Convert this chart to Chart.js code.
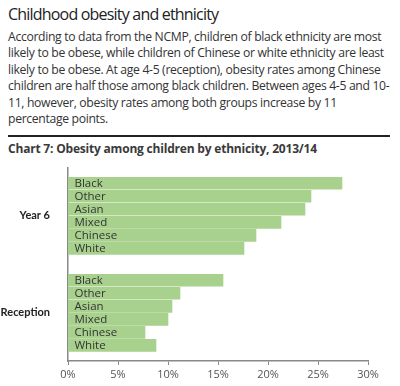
<!DOCTYPE html>
<html>
<head>
<meta charset="utf-8">
<script src="https://cdn.jsdelivr.net/npm/chart.js@4"></script>
<style>
  body { margin: 0; width: 400px; height: 386px; background: #fff; font-family: "Open Sans", sans-serif; color: #222; position: relative; overflow: hidden; }
  h1 { position: absolute; left: 8px; top: 3px; margin: 0; font-size: 16px; font-weight: normal; letter-spacing: -0.8px; }
  p { position: absolute; left: 8px; top: 29px; margin: 0; font-size: 12.2px; line-height: 16.4px; letter-spacing: -0.33px; color: #333; white-space: nowrap; }
  .rule { position: absolute; left: 8px; top: 135px; width: 382px; height: 2px; background: #222; }
  h2 { position: absolute; left: 8px; top: 140px; margin: 0; font-size: 12px; font-weight: bold; color: #3a3a3a; letter-spacing: -0.2px; }
  #wrap { position: absolute; left: 0; top: 151px; width: 400px; height: 235px; }
</style>
</head>
<body>
<h1>Childhood obesity and ethnicity</h1>
<p>According to data from the NCMP, children of black ethnicity are most<br>likely to be obese, while children of Chinese or white ethnicity are least<br>likely to be obese. At age 4-5 (reception), obesity rates among Chinese<br>children are half those among black children. Between ages 4-5 and 10-<br>11, however, obesity rates among both groups increase by 11<br>percentage points.</p>
<div class="rule"></div>
<h2>Chart 7: Obesity among children by ethnicity, 2013/14</h2>
<div id="wrap"><canvas id="chart-obesity"></canvas></div>
<script>
var ethnicities = ["Black", "Other", "Asian", "Mixed", "Chinese", "White"];
var groups = ["Year 6", "Reception"];
var year6Values = [27.4, 24.3, 23.7, 21.3, 18.8, 17.6];
var receptionValues = [15.5, 11.2, 10.4, 10.0, 7.7, 8.8];
var xTicks = [0, 5, 10, 15, 20, 25, 30];

// slot positions on the y scale (Year 6 on top, gap, then Reception)
var year6Slots = [0, 1, 2, 3, 4, 5];
var receptionSlots = [7.45, 8.45, 9.45, 10.45, 11.45, 12.45];
var groupSlots = [2.5, 9.95];

var barPoints = [];
var barLabels = [];
year6Values.forEach(function(v, i) {
    barPoints.push({ x: v, y: year6Slots[i] });
    barLabels.push(ethnicities[i]);
});
receptionValues.forEach(function(v, i) {
    barPoints.push({ x: v, y: receptionSlots[i] });
    barLabels.push(ethnicities[i]);
});

var innerLabels = {
    id: 'innerLabels',
    afterDatasetsDraw: function(chart) {
        var ctx = chart.ctx;
        var meta = chart.getDatasetMeta(0);
        ctx.save();
        ctx.font = '11.5px "Open Sans", sans-serif';
        ctx.fillStyle = '#333';
        ctx.textBaseline = 'middle';
        meta.data.forEach(function(bar, i) {
            ctx.fillText(barLabels[i], bar.base + 6, bar.y + 0.5);
        });
        ctx.restore();
    }
};

var configObesity = {
    type: 'bar',
    data: {
        datasets: [{
            data: barPoints,
            backgroundColor: '#a9d18e',
            barThickness: 12,
            borderWidth: 0
        }]
    },
    options: {
        indexAxis: 'y',
        responsive: true,
        maintainAspectRatio: false,
        animation: false,
        layout: { padding: { top: 6, right: 32, left: 0, bottom: 0 } },
        plugins: { legend: { display: false }, tooltip: { enabled: false } },
        scales: {
            x: {
                type: 'linear',
                min: 0,
                max: 30,
                afterBuildTicks: function(scale) {
                    scale.ticks = xTicks.map(function(t) { return { value: t }; });
                },
                afterFit: function(scale) { scale.height = 25; },
                grid: { display: true, drawOnChartArea: false, drawTicks: true, tickLength: 4, color: '#888' },
                border: { display: true, color: '#888', width: 1.5 },
                ticks: {
                    color: '#555',
                    font: { family: 'Open Sans', size: 11 },
                    padding: 3,
                    callback: function(v) { return v + '%'; }
                }
            },
            y: {
                type: 'linear',
                reverse: true,
                offset: false,
                grace: 0,
                min: -1.2,
                max: 13.65,
                afterBuildTicks: function(scale) {
                    scale.ticks = groupSlots.map(function(t) { return { value: t }; });
                },
                afterFit: function(scale) { scale.width = 68; },
                grid: { display: false },
                border: { display: true, color: '#888', width: 1.5 },
                ticks: {
                    color: '#222',
                    font: { family: 'Lato', size: 11, weight: 'bold' },
                    padding: 10,
                    autoSkip: false,
                    callback: function(v, i) { return groups[i]; }
                }
            }
        }
    },
    plugins: [innerLabels]
};

window.onload = function() {
    var ctxObesity = document.getElementById('chart-obesity').getContext('2d');
    window.myObesity = new Chart(ctxObesity, configObesity);
};
</script>
</body>
</html>
